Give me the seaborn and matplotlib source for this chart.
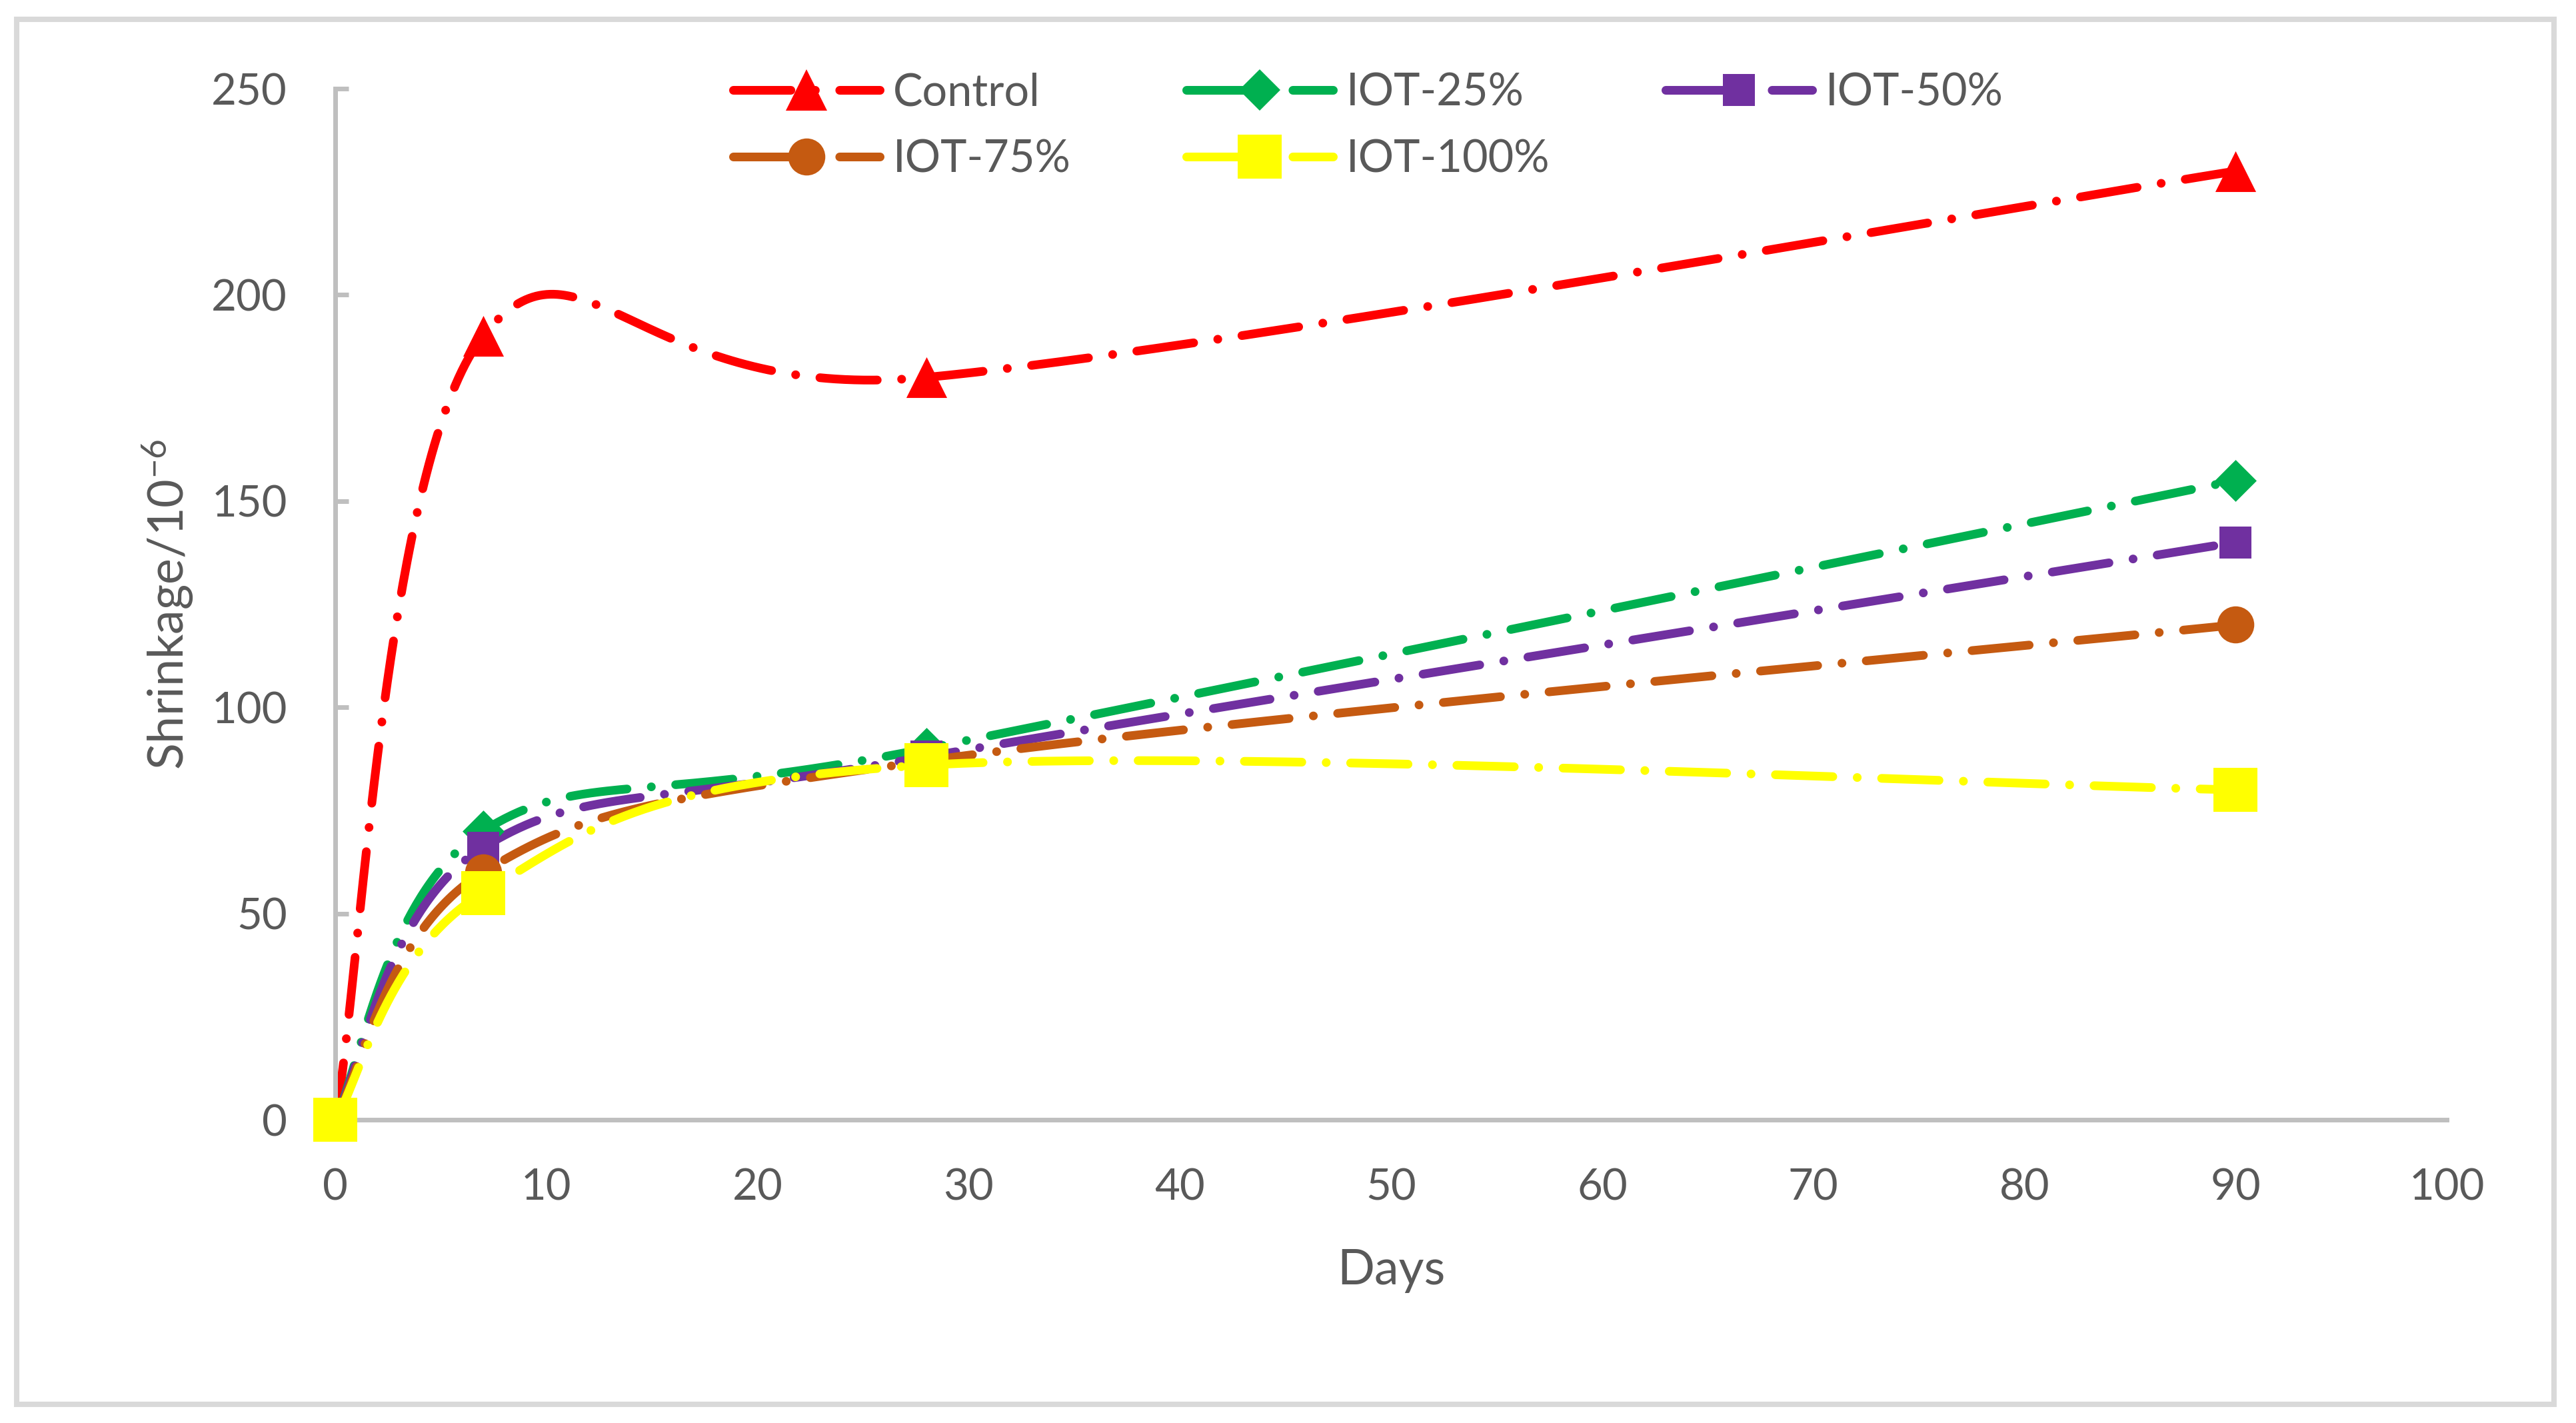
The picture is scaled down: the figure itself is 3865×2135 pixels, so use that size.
import numpy as np
import pandas as pd
import matplotlib.pyplot as plt
from matplotlib.lines import Line2D
from matplotlib.patches import Rectangle
import seaborn as sns

# datos
days = [0, 7, 28, 90]
control = [0, 190, 180, 230]
iot_25 = [0, 70, 90, 155]
iot_50 = [0, 66, 88, 140]
iot_75 = [0, 60, 87, 120]
iot_100 = [0, 55, 86, 80]

series_names = ['Control', 'IOT-25%', 'IOT-50%', 'IOT-75%', 'IOT-100%']
series_values = [control, iot_25, iot_50, iot_75, iot_100]
colors = ['#FF0000', '#00B050', '#7030A0', '#C55A11', '#FFFF00']
markers = ['^', 'D', 's', 'o', 's']
marker_sizes = [22, 16, 17.5, 20, 23.5]

x_ticks = [0, 10, 20, 30, 40, 50, 60, 70, 80, 90, 100]
y_ticks = [0, 50, 100, 150, 200, 250]


def smooth_line(xs, ys, n=80):
    # curva suavizada tipo Excel (bezier con tangentes catmull-rom)
    pts = np.column_stack([xs, ys]).astype(float)
    out = [pts[:1]]
    t = np.linspace(0, 1, n)[1:, None]
    for i in range(len(pts) - 1):
        p0 = pts[i - 1] if i > 0 else pts[i]
        p1, p2 = pts[i], pts[i + 1]
        p3 = pts[i + 2] if i + 2 < len(pts) else pts[i + 1]
        c1 = p1 + (p2 - p0) / 6
        c2 = p2 - (p3 - p1) / 6
        seg = (1 - t) ** 3 * p1 + 3 * (1 - t) ** 2 * t * c1 + 3 * (1 - t) * t ** 2 * c2 + t ** 3 * p2
        out.append(seg)
    return np.vstack(out)


sns.set_theme(style='white')
plt.rcParams['font.family'] = ['Lato', 'DejaVu Sans']
plt.rcParams['mathtext.fontset'] = 'custom'
plt.rcParams['mathtext.rm'] = 'Lato'
plt.rcParams['mathtext.default'] = 'regular'

text_color = '#595959'
axis_color = '#BFBFBF'
lw = 4.7
dash = (0, (6.6, 2.8, 0.01, 2.8))

fig = plt.figure(figsize=(19.33, 10.675), dpi=200)
ax = fig.add_axes([0.1301, 0.2131, 0.8195, 0.7246])

for i, (name, vals) in enumerate(zip(series_names, series_values)):
    sm = smooth_line(days, vals)
    df = pd.DataFrame({'x': sm[:, 0], 'y': sm[:, 1]})
    sns.lineplot(data=df, x='x', y='y', sort=False, estimator=None, color=colors[i],
                 lw=lw, linestyle=dash, dash_capstyle='round', solid_capstyle='round',
                 ax=ax, legend=False, zorder=2 + i * 0.1)

for i, (name, vals) in enumerate(zip(series_names, series_values)):
    sns.scatterplot(x=days, y=vals, marker=markers[i], s=marker_sizes[i] ** 2,
                    color=colors[i], linewidth=0, ax=ax, zorder=4 + i, clip_on=False,
                    legend=False)

ax.set_xlim(0, 100)
ax.set_ylim(0, 250)
ax.set_xticks(x_ticks)
ax.set_yticks(y_ticks)

for side in ['top', 'right']:
    ax.spines[side].set_visible(False)
for side in ['left', 'bottom']:
    ax.spines[side].set_color(axis_color)
    ax.spines[side].set_linewidth(2.5)

ax.tick_params(axis='y', direction='in', length=7.2, width=2.5, color=axis_color,
               labelsize=23.5, labelcolor=text_color, pad=26, left=True)
ax.tick_params(axis='x', length=0, labelsize=23.5, labelcolor=text_color, pad=26, bottom=True)

ax.set_xlabel('Days', fontsize=26.5, color=text_color)
ax.set_ylabel('Shrinkage/10$^{-6}$', fontsize=26.5, color=text_color)
ax.xaxis.set_label_coords(0.5, -0.125)
ax.yaxis.set_label_coords(-0.066, 0.5)

# leyenda en orden por filas (matplotlib llena por columnas)
handles = [Line2D([], [], color=colors[i], lw=lw, linestyle=dash, dash_capstyle='round',
                  marker=markers[i], markersize=marker_sizes[i], markeredgewidth=0)
           for i in range(len(series_names))]
order = [0, 3, 1, 4, 2]
fig.legend([handles[i] for i in order], [series_names[i] for i in order],
           loc='upper left', bbox_to_anchor=(0.2845, 0.9494),
           ncol=3, frameon=False, fontsize=24, labelcolor=text_color, handlelength=3.3,
           handletextpad=0.3, columnspacing=2.6, labelspacing=0.57, borderpad=0,
           borderaxespad=0, numpoints=1)

# borde del grafico
fig.patches.append(Rectangle((25 / 3866, 1 - 2107 / 2135), (3832 - 25) / 3866, (2107 - 29) / 2135,
                             transform=fig.transFigure, fill=False, edgecolor='#D9D9D9', lw=2.9))

fig.savefig('out.png', dpi=200)
